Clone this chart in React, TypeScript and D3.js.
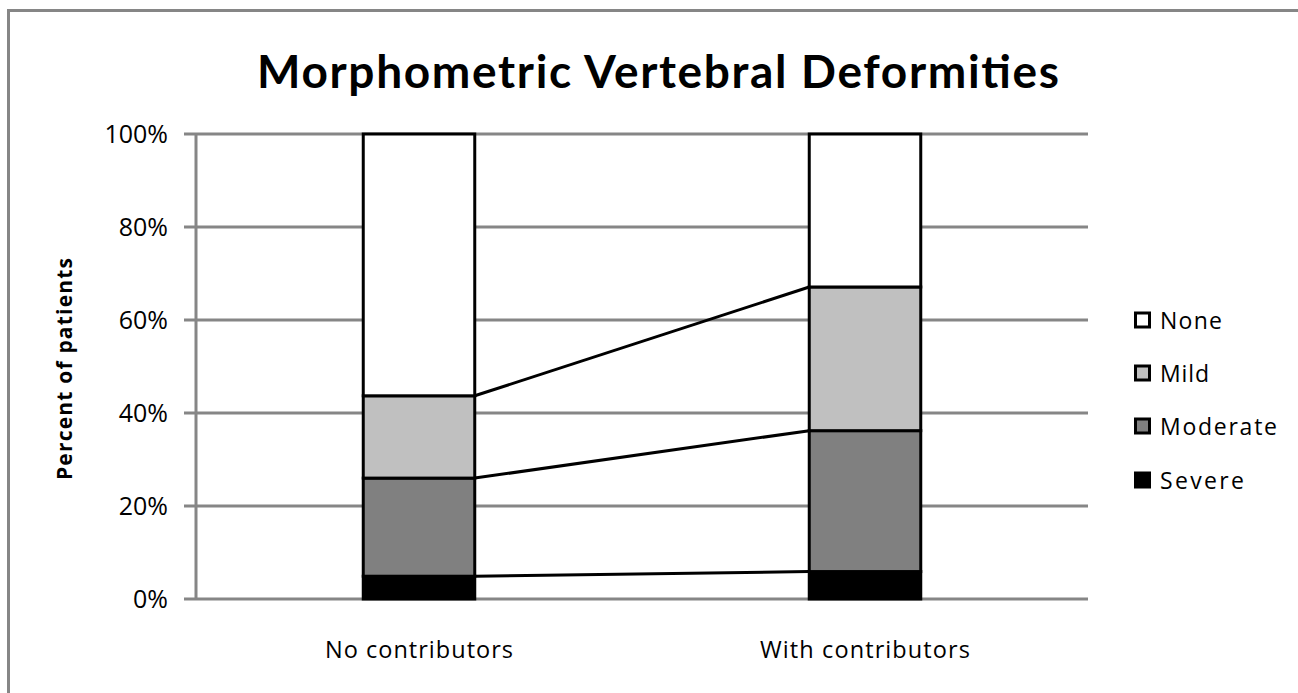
import React, { useRef, useEffect } from 'react';
import * as d3 from 'd3';

const categories = ['No contributors', 'With contributors'];
const seriesNames = ['Severe', 'Moderate', 'Mild', 'None'];
const severe = [4.9, 5.9];
const moderate = [21.1, 30.3];
const mild = [17.7, 30.9];
const none = [56.3, 32.9];
const yTicks = [0, 20, 40, 60, 80, 100];
const legendItems = ['None', 'Mild', 'Moderate', 'Severe'];
const fills: Record<string, string> = {
  Severe: '#000000',
  Moderate: '#808080',
  Mild: '#c0c0c0',
  None: '#ffffff',
};

const W = 1298;
const H = 693;
const TITLE_FONT = 'Lato, "Open Sans", sans-serif';
const FONT = '"Open Sans", Lato, sans-serif';

const App = () => {
  const svgRef = useRef<SVGSVGElement>(null);

  useEffect(() => {
    const svg = d3.select(svgRef.current);
    svg.selectAll('*').remove();

    const margin = { top: 134, left: 196 };
    const innerWidth = 1088 - margin.left;
    const innerHeight = 599 - margin.top;

    const rows = categories.map((c, i) => ({
      cat: c,
      Severe: severe[i],
      Moderate: moderate[i],
      Mild: mild[i],
      None: none[i],
    }));

    const x = d3.scalePoint().domain(categories).range([0, innerWidth]).padding(0.5);
    const bw = x.step() * 0.25;
    const y = d3.scaleLinear().domain([0, 100]).range([innerHeight, 0]);

    const series = d3.stack<any>().keys(seriesNames)(rows);

    // outer chart border
    svg.append('rect')
      .attr('x', 8.5).attr('y', 10.5)
      .attr('width', W).attr('height', H)
      .attr('fill', 'white')
      .attr('stroke', '#868686').attr('stroke-width', 3);

    svg.append('text')
      .attr('x', 257).attr('y', 88)
      .attr('font-family', TITLE_FONT)
      .attr('font-weight', 'bold')
      .attr('font-size', 46)
      .attr('textLength', 802)
      .attr('lengthAdjust', 'spacing')
      .text('Morphometric Vertebral Deformities');

    const g = svg.append('g').attr('transform', `translate(${margin.left},${margin.top})`);

    // gridlines + ticks
    g.selectAll('.grid')
      .data(yTicks)
      .join('line')
      .attr('x1', -12).attr('x2', innerWidth)
      .attr('y1', d => y(d)).attr('y2', d => y(d))
      .attr('stroke', '#868686').attr('stroke-width', 3);

    g.append('line')
      .attr('x1', 0).attr('x2', 0)
      .attr('y1', 0).attr('y2', innerHeight)
      .attr('stroke', '#868686').attr('stroke-width', 3);

    g.selectAll('.ylab')
      .data(yTicks)
      .join('text')
      .attr('x', -28).attr('y', d => y(d) + 9)
      .attr('text-anchor', 'end')
      .attr('font-family', FONT)
      .attr('font-size', 25)
      .text(d => d + '%');

    // series lines between bar segment tops
    series.slice(0, 3).forEach(s => {
      g.append('line')
        .attr('x1', x(categories[0])! + bw / 2)
        .attr('x2', x(categories[1])! - bw / 2)
        .attr('y1', y(s[0][1]))
        .attr('y2', y(s[1][1]))
        .attr('stroke', 'black').attr('stroke-width', 3);
    });

    // bars
    g.selectAll('.layer')
      .data(series)
      .join('g')
      .attr('fill', d => fills[d.key])
      .selectAll('rect')
      .data(d => d)
      .join('rect')
      .attr('x', d => x(d.data.cat)! - bw / 2)
      .attr('y', d => y(d[1]))
      .attr('width', bw)
      .attr('height', d => y(d[0]) - y(d[1]))
      .attr('stroke', 'black').attr('stroke-width', 3);

    // x labels
    g.selectAll('.xlab')
      .data(categories)
      .join('text')
      .attr('x', d => x(d)!)
      .attr('y', innerHeight + 59)
      .attr('text-anchor', 'middle')
      .attr('font-family', FONT)
      .attr('font-size', 23.5)
      .attr('textLength', (d, i) => (i === 0 ? 188 : 210))
      .attr('lengthAdjust', 'spacing')
      .text(d => d);

    // y axis title
    svg.append('text')
      .attr('transform', `translate(72,369) rotate(-90)`)
      .attr('text-anchor', 'middle')
      .attr('font-family', FONT)
      .attr('font-weight', 'bold')
      .attr('font-size', 21)
      .attr('textLength', 222)
      .attr('lengthAdjust', 'spacing')
      .text('Percent of patients');

    // legend
    const legend = svg.append('g').attr('transform', 'translate(1134,0)');
    const ly = [321, 374, 427, 481];
    const lw = [62, 49, 117, 84];
    legendItems.forEach((k, i) => {
      legend.append('rect')
        .attr('x', 1.5).attr('y', ly[i] - 8)
        .attr('width', 14).attr('height', 14)
        .attr('fill', fills[k])
        .attr('stroke', 'black').attr('stroke-width', 3);
      legend.append('text')
        .attr('x', 26).attr('y', ly[i] + 8)
        .attr('font-family', FONT)
        .attr('font-size', 23)
        .attr('textLength', lw[i])
        .attr('lengthAdjust', 'spacing')
        .text(k);
    });
  }, []);

  return (
    <svg ref={svgRef} width={W} height={H} style={{ position: 'absolute', left: 0, top: 0 }} />
  );
};

export default App;
